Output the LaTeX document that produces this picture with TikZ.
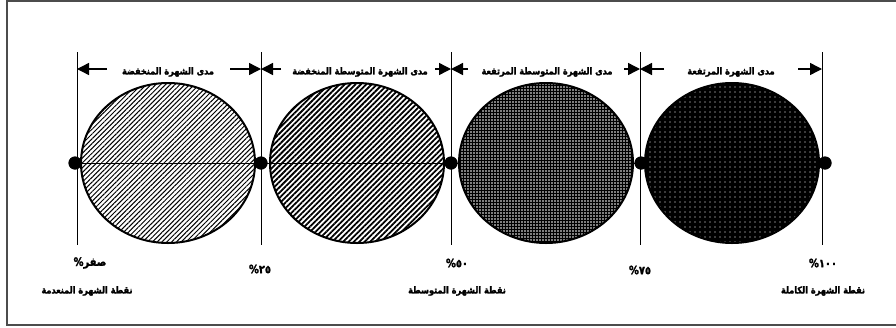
\documentclass[tikz,border=0pt]{standalone}
\usepackage{fontspec}
\newfontfamily\arabicfont[Script=Arabic, FakeBold=2, FakeStretch=0.86]{DejaVu Sans Bold}
\TeXXeTstate=1
\usetikzlibrary{shapes.geometric,patterns.meta,arrows.meta}
\tikzset{
  frame/.style={draw=black!70, line width=2pt},
  bline/.style={line width=1pt},
  dotn/.style={circle, fill=black, inner sep=0pt, minimum size=13pt},
  ell/.style={ellipse, draw=black, line width=2pt, minimum width=174pt, minimum height=160pt, inner sep=0pt},
  dimarrow/.style={line width=1.4pt, -{Triangle[length=12pt,width=12pt]}},
  rangelbl/.style={font=\arabicfont\fontsize{9.5}{10}\selectfont, inner sep=1pt},
  pctlbl/.style={font=\arabicfont\fontsize{11.5}{12}\selectfont, inner sep=1pt},
  ptlbl/.style={font=\arabicfont\fontsize{9.5}{10}\selectfont, inner sep=1pt}
}
\begin{document}
\begin{tikzpicture}[x=1pt,y=-1pt]
\useasboundingbox (0,0) rectangle (896,327);
\draw[frame] (7,1) rectangle (905,325);

% boundary lines
\foreach \i/\x in {0/77,1/261,2/451,3/640,4/822}{
  \coordinate (t\i) at (\x,52);
  \coordinate (u\i) at (\x,245);
}
\foreach \i in {0,...,4}{ \draw[bline] (t\i) -- (u\i); }

% ellipses
\node[ell, pattern={Lines[angle=45,distance=3.4pt,line width=1pt]}] (e1) at (168,163) {};
\node[ell, pattern={Lines[angle=45,distance=3.8pt,line width=1.8pt]}] (e2) at (357,163) {};
\node[ell, preaction={fill=black}, pattern={Dots[distance=3pt,radius=0.9pt]}, pattern color=white] (e3) at (546,163) {};
\node[ell, preaction={fill=black}, pattern={Dots[distance=5pt,radius=0.6pt]}, pattern color=white] (e4) at (732,163) {};

% dots and center line
\node[dotn] (d0) at (75,163) {};
\node[dotn] (d1) at (261,163) {};
\node[dotn] (d2) at (451,163) {};
\node[dotn] (d3) at (641,163) {};
\node[dotn] (d4) at (825,163) {};
\draw[line width=0.9pt] (d0.center) -- (d4.center);
\foreach \i in {0,...,4}{ \node[dotn] at (d\i) {}; }

% dimension arrows
\coordinate (a1l) at (107,69); \coordinate (a1r) at (230,69);
\coordinate (a2l) at (281,69); \coordinate (a2r) at (435,69);
\coordinate (a3l) at (468,69); \coordinate (a3r) at (624,69);
\coordinate (a4l) at (664,69); \coordinate (a4r) at (798,69);
\draw[dimarrow] (a1l) -- (t0 |- a1l);
\draw[dimarrow] (a1r) -- (t1 |- a1r);
\draw[dimarrow] (a2l) -- (t1 |- a2l);
\draw[dimarrow] (a2r) -- (t2 |- a2r);
\draw[dimarrow] (a3l) -- (t2 |- a3l);
\draw[dimarrow] (a3r) -- (t3 |- a3r);
\draw[dimarrow] (a4l) -- (t3 |- a4l);
\draw[dimarrow] (a4r) -- (t4 |- a4r);

% range labels
\node[rangelbl] (r1) at (168,72) {\beginR مدى الشهرة المنخفضة\endR};
\node[rangelbl] (r2) at (360,72) {\beginR مدى الشهرة المتوسطة المنخفضة\endR};
\node[rangelbl] (r3) at (547,72) {\beginR مدى الشهرة المتوسطة المرتفعة\endR};
\node[rangelbl] (r4) at (731,72) {\beginR مدى الشهرة المرتفعة\endR};

% percentages
\node[pctlbl] (p0) at (90,263) {\%\hbox{}صفر};
\node[pctlbl] (p1) at (260,269) {\%\hbox{}٢٥};
\node[pctlbl] (p2) at (457,263) {\%\hbox{}٥٠};
\node[pctlbl] (p3) at (640,270) {\%\hbox{}٧٥};
\node[pctlbl] (p4) at (823,263) {\%\hbox{}١٠٠};

% point names
\node[ptlbl] (n0) at (87,291) {\beginR نقطة الشهرة المنعدمة\endR};
\node[ptlbl] (n2) at (457,291) {\beginR نقطة الشهرة المتوسطة\endR};
\node[ptlbl] (n4) at (823,291) {\beginR نقطة الشهرة الكاملة\endR};
\end{tikzpicture}
\end{document}
